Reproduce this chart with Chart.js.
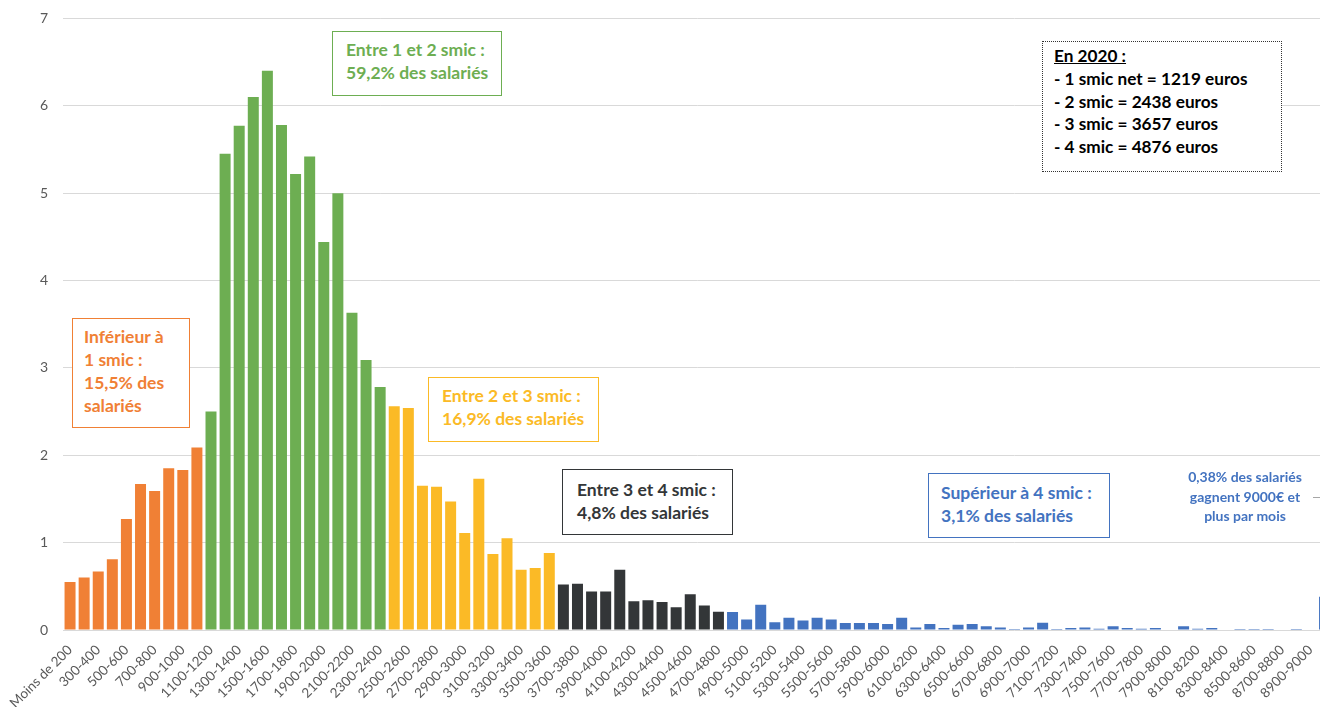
<!DOCTYPE html>
<html>
<head>
<meta charset="utf-8">
<script src="https://cdn.jsdelivr.net/npm/chart.js@4.4.1/dist/chart.umd.min.js"></script>
<style>
  html, body { margin: 0; padding: 0; background: #fff; overflow: hidden; }
  #wrap { position: relative; width: 1320px; height: 707px; overflow: hidden; }
  #salaires { position: absolute; left: 0; top: -5px; }
  .note { position: absolute; box-sizing: border-box; background: #fff;
          font-family: Lato, sans-serif; font-weight: bold; font-size: 17.5px; line-height: 23px; white-space: nowrap; }
</style>
</head>
<body>
<div id="wrap">
  <canvas id="salaires" width="1348" height="712"></canvas>

  <div class="note" style="left:72px;top:318px;width:118px;height:110px;border:1px solid #F08035;color:#F08035;padding:6px 0 0 11px;">Inférieur à<br>1 smic :<br>15,5% des<br>salariés</div>
  <div class="note" style="left:332px;top:31px;width:170px;height:65px;border:1px solid #6DAE52;color:#6DAE52;padding:6px 0 0 13px;">Entre 1 et 2 smic :<br>59,2% des salariés</div>
  <div class="note" style="left:428px;top:377px;width:171px;height:65px;border:1px solid #FBBA26;color:#FBBA26;padding:6px 0 0 13px;">Entre 2 et 3 smic :<br>16,9% des salariés</div>
  <div class="note" style="left:562px;top:469px;width:171px;height:66px;border:1px solid #333638;color:#333638;padding:8px 0 0 14px;">Entre 3 et 4 smic :<br>4,8% des salariés</div>
  <div class="note" style="left:928px;top:473px;width:182px;height:65px;border:1px solid #4373C0;color:#4373C0;padding:7px 0 0 12px;">Supérieur à 4 smic :<br>3,1% des salariés</div>
  <div class="note" style="left:1042px;top:41px;width:240px;height:131px;border:1px dotted #333;color:#000;padding:3px 0 0 11px;line-height:22.75px;font-size:17.2px;"><u>En 2020 :</u><br>- 1 smic net = 1219 euros<br>- 2 smic = 2438 euros<br>- 3 smic = 3657 euros<br>- 4 smic = 4876 euros</div>
  <div class="note" style="left:1170px;top:467px;width:150px;color:#4373C0;background:transparent;text-align:center;font-size:14px;line-height:19.5px;">0,38% des salariés<br>gagnent 9000€ et<br>plus par mois</div>
  <div style="position:absolute;left:1313px;top:497px;width:8px;height:1px;background:#a6a6a6;"></div>
</div>

<script>
// tranches de salaire net mensuel (euros)
const categories = [
  'Moins de 200', '200-300', '300-400', '400-500', '500-600', '600-700', '700-800', '800-900', '900-1000', '1000-1100',
  '1100-1200', '1200-1300', '1300-1400', '1400-1500', '1500-1600', '1600-1700', '1700-1800', '1800-1900', '1900-2000', '2000-2100',
  '2100-2200', '2200-2300', '2300-2400', '2400-2500', '2500-2600', '2600-2700', '2700-2800', '2800-2900', '2900-3000', '3000-3100',
  '3100-3200', '3200-3300', '3300-3400', '3400-3500', '3500-3600', '3600-3700', '3700-3800', '3800-3900', '3900-4000', '4000-4100',
  '4100-4200', '4200-4300', '4300-4400', '4400-4500', '4500-4600', '4600-4700', '4700-4800', '4800-4900', '4900-5000', '5000-5100',
  '5100-5200', '5200-5300', '5300-5400', '5400-5500', '5500-5600', '5600-5700', '5700-5800', '5800-5900', '5900-6000', '6000-6100',
  '6100-6200', '6200-6300', '6300-6400', '6400-6500', '6500-6600', '6600-6700', '6700-6800', '6800-6900', '6900-7000', '7000-7100',
  '7100-7200', '7200-7300', '7300-7400', '7400-7500', '7500-7600', '7600-7700', '7700-7800', '7800-7900', '7900-8000', '8000-8100',
  '8100-8200', '8200-8300', '8300-8400', '8400-8500', '8500-8600', '8600-8700', '8700-8800', '8800-8900', '8900-9000', '9000 et plus'
];

// part des salariés (%)
const shares = [
  0.55, 0.60, 0.67, 0.81, 1.27, 1.67, 1.59, 1.85, 1.83, 2.09,
  2.50, 5.45, 5.77, 6.10, 6.40, 5.78, 5.22, 5.42, 4.44, 5.00,
  3.63, 3.09, 2.78, 2.56, 2.54, 1.65, 1.64, 1.47, 1.11, 1.73,
  0.87, 1.05, 0.69, 0.71, 0.88, 0.52, 0.53, 0.44, 0.44, 0.69,
  0.33, 0.34, 0.32, 0.26, 0.41, 0.28, 0.21, 0.205, 0.12, 0.29,
  0.09, 0.14, 0.11, 0.14, 0.12, 0.08, 0.08, 0.08, 0.07, 0.14,
  0.03, 0.068, 0.023, 0.06, 0.068, 0.042, 0.03, 0.011, 0.03, 0.082,
  0.011, 0.023, 0.03, 0.013, 0.042, 0.023, 0.013, 0.023, 0.005, 0.042,
  0.013, 0.023, 0.005, 0.011, 0.011, 0.011, 0, 0.011, 0.005, 0.38
];

// premier indice de chaque groupe (moins de 1 smic, 1-2, 2-3, 3-4, plus de 4)
const groupStarts = [0, 10, 23, 35, 47];
const groupColors = ['#F08035', '#6DAE52', '#FBBA26', '#333638', '#4373C0'];

const barColors = shares.map((v, i) => {
  let g = 0;
  groupStarts.forEach((s, k) => { if (i >= s) g = k; });
  return groupColors[g];
});

const ctx = document.getElementById('salaires').getContext('2d');
new Chart(ctx, {
  type: 'bar',
  data: {
    labels: categories,
    datasets: [{
      data: shares,
      backgroundColor: barColors,
      barPercentage: 0.78,
      categoryPercentage: 1
    }]
  },
  options: {
    responsive: false,
    animation: false,
    devicePixelRatio: 1,
    layout: { padding: 0 },
    plugins: { legend: { display: false }, tooltip: { enabled: false } },
    scales: {
      x: {
        grid: { display: false, drawTicks: false },
        border: { display: false },
        ticks: {
          autoSkip: false, maxRotation: 45, minRotation: 45, padding: 12,
          color: '#595959', font: { family: 'Lato', size: 13.5 },
          callback: (v, i) => (i % 2 === 0 && i < 89) ? categories[i] : ''
        },
        afterFit: s => { s.height = 77; }
      },
      y: {
        min: 0, max: 7,
        ticks: { stepSize: 1, padding: 15, color: '#595959', font: { family: 'Lato', size: 14 } },
        grid: { color: '#d9d9d9', drawTicks: false },
        border: { display: false },
        afterFit: s => { s.width = 63; }
      }
    }
  }
});
</script>
</body>
</html>
